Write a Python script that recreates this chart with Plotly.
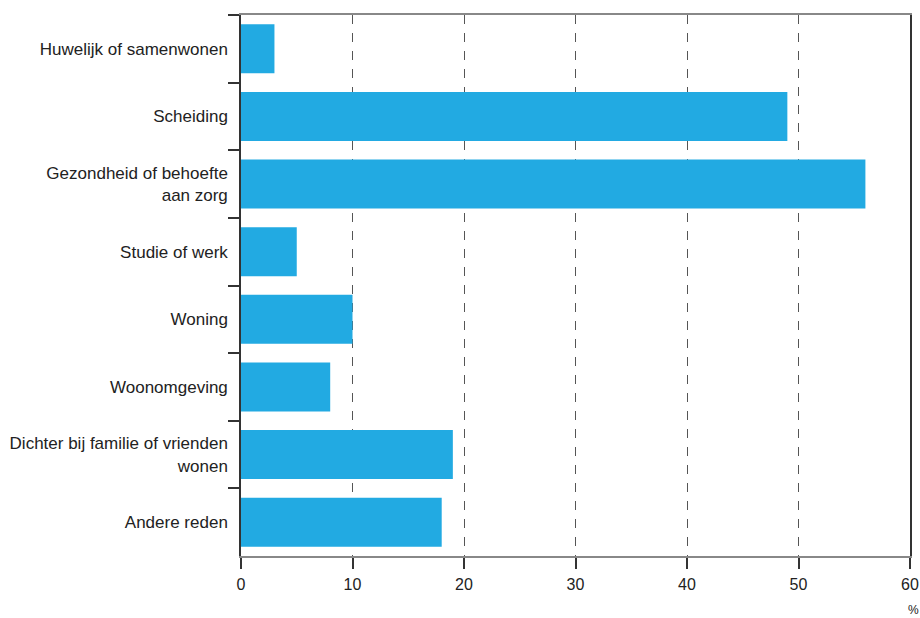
import plotly.graph_objects as go

categories = [
    "Huwelijk of samenwonen",
    "Scheiding",
    "Gezondheid of behoefte<br>aan zorg",
    "Studie of werk",
    "Woning",
    "Woonomgeving",
    "Dichter bij familie of vrienden<br>wonen",
    "Andere reden",
]
values = [3, 49, 56, 5, 10, 8, 19, 18]
x_ticks = [0, 10, 20, 30, 40, 50, 60]

font_family = "Liberation Sans, Arial, sans-serif"

fig = go.Figure(
    go.Bar(
        y=categories,
        x=values,
        orientation="h",
        marker=dict(color="#22aae2", line=dict(width=0)),
        hoverinfo="x+y",
    )
)

fig.update_layout(
    width=920,
    height=618,
    margin=dict(l=241, r=10, t=15, b=62, autoexpand=False),
    paper_bgcolor="white",
    plot_bgcolor="white",
    bargap=0.275,
    showlegend=False,
    font=dict(family=font_family, size=16, color="#222222"),
)

fig.update_xaxes(
    range=[0, 60],
    tickvals=x_ticks,
    ticktext=[str(v) for v in x_ticks],
    showgrid=True,
    gridcolor="#555555",
    griddash="dash",
    gridwidth=1,
    zeroline=False,
    showline=True,
    linecolor="#888888",
    linewidth=2,
    mirror=True,
    ticks="outside",
    ticklen=11,
    tickwidth=1.5,
    tickcolor="#333333",
    tickfont=dict(size=16, color="#222222"),
    ticklabelstandoff=2,
    ticklabeloverflow="allow",
    automargin=False,
    fixedrange=True,
)

fig.update_yaxes(
    categoryorder="array",
    categoryarray=categories,
    autorange="reversed",
    showgrid=False,
    showline=True,
    linecolor="#333333",
    linewidth=1.5,
    mirror=True,
    ticks="outside",
    tickson="boundaries",
    ticklen=11,
    tickwidth=1.5,
    tickcolor="#333333",
    tickfont=dict(size=17, color="#222222"),
    ticklabelstandoff=8,
    automargin=False,
    fixedrange=True,
)

fig.add_annotation(
    text="%",
    xref="paper",
    yref="paper",
    x=1,
    xshift=3,
    y=-(610 - 556) / 541,
    xanchor="center",
    yanchor="middle",
    showarrow=False,
    font=dict(size=12, color="#222222", family=font_family),
)

fig.write_html(
    "out.html",
    config={"displayModeBar": False},
    post_script="document.body.style.margin='0';document.body.style.overflow='hidden';",
)
